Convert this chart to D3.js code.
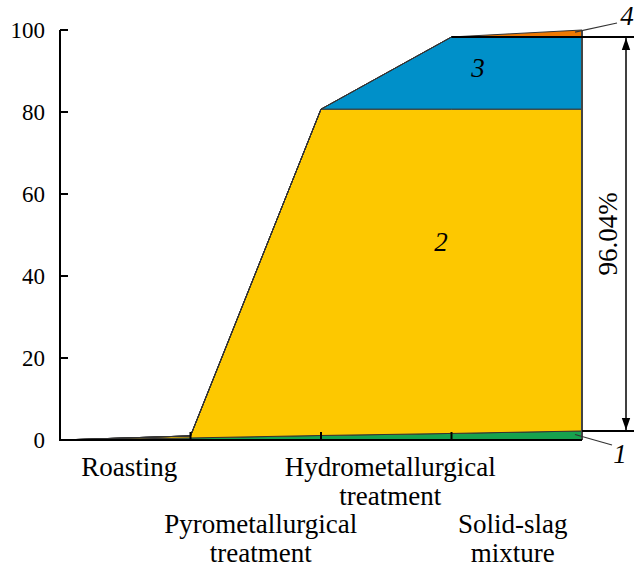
<!DOCTYPE html>
<html>
<head>
<meta charset="utf-8">
<script src="https://cdn.jsdelivr.net/npm/d3@7"></script>
<style>
  body { margin: 0; background: #fff; }
  text { font-family: "Liberation Serif", "Times New Roman", "DejaVu Serif", serif; fill: #000; }
</style>
</head>
<body>
<svg id="chart" width="634" height="567"></svg>
<script>
// stages along x (the last point is the end of the last stage)
const stages = ["Roasting", "Pyrometallurgical treatment", "Hydrometallurgical treatment", "Solid-slag mixture"];
const labelLines = [["Roasting"], ["Pyrometallurgical", "treatment"], ["Hydrometallurgical", "treatment"], ["Solid-slag", "mixture"]];
const labelRow = [0, 1, 0, 1];
const labelShift = [4, 5, 4, -4];

// layer thickness, %, at each of the 5 boundary points
const layer1 = [0, 0.5, 1.1, 1.6, 2.2];
const layer2 = [0, 0.5, 79.6, 79.1, 78.5];
const layer3 = [0, 0, 0, 17.6, 17.6];
const layer4 = [0, 0, 0, 0, 1.7];
const yTicks = [0, 20, 40, 60, 80, 100];
const annotation = "96.04%";

const colors = { l1: "#17a24e", l2: "#fdc800", l3: "#0090c9", l4: "#ef7800" };

const svg = d3.select("#chart");
const x = d3.scaleLinear().domain([0, stages.length]).range([60, 582]);
const y = d3.scaleLinear().domain([0, 100]).range([440, 30]);

const rows = layer1.map((v, i) => ({ i: i, l1: v, l2: layer2[i], l3: layer3[i], l4: layer4[i] }));
const keys = ["l1", "l2", "l3", "l4"];
const series = d3.stack().keys(keys)(rows);

const area = d3.area()
  .x(d => x(d.data.i))
  .y0(d => y(d[0]))
  .y1(d => y(d[1]));

svg.append("g").selectAll("path")
  .data(series)
  .enter()
  .append("path")
  .attr("d", area)
  .attr("fill", d => colors[d.key])
  .attr("stroke", "#333")
  .attr("stroke-width", 1)
  .attr("stroke-linejoin", "round");

// right edge
const last = rows.length - 1;
const total = d3.sum(keys, k => rows[last][k]);
svg.append("line")
  .attr("x1", x(last)).attr("x2", x(last))
  .attr("y1", y(0)).attr("y2", y(total))
  .attr("stroke", "#444").attr("stroke-width", 2);

// axes
svg.append("line").attr("x1", 60).attr("x2", 60).attr("y1", y(100)).attr("y2", y(0))
  .attr("stroke", "#000").attr("stroke-width", 2);
svg.append("line").attr("x1", 59).attr("x2", x(last)).attr("y1", y(0)).attr("y2", y(0))
  .attr("stroke", "#000").attr("stroke-width", 2);

svg.append("g").selectAll("line")
  .data(yTicks.filter(t => t > 0))
  .enter().append("line")
  .attr("x1", 60).attr("x2", 68)
  .attr("y1", d => y(d)).attr("y2", d => y(d))
  .attr("stroke", "#000").attr("stroke-width", 2);

svg.append("g").selectAll("text")
  .data(yTicks)
  .enter().append("text")
  .attr("x", 45)
  .attr("y", d => y(d))
  .attr("dy", "0.35em")
  .attr("text-anchor", "end")
  .style("font-size", "23px")
  .text(d => d);

svg.append("g").selectAll("line")
  .data(d3.range(1, stages.length))
  .enter().append("line")
  .attr("x1", d => x(d)).attr("x2", d => x(d))
  .attr("y1", y(0)).attr("y2", y(0) - 8)
  .attr("stroke", "#000").attr("stroke-width", 2);

// stage labels
const lab = svg.append("g").selectAll("text")
  .data(stages)
  .enter().append("text")
  .attr("text-anchor", "middle")
  .style("font-size", "27px")
  .attr("transform", (d, i) => `translate(${x(i + 0.5) + labelShift[i]},${476 + labelRow[i] * 57})`);
lab.selectAll("tspan")
  .data((d, i) => labelLines[i])
  .enter().append("tspan")
  .attr("x", 0)
  .attr("y", (d, j) => j * 29)
  .text(d => d);

// layer numbers
const italic = (t, px, py) => svg.append("text")
  .attr("x", px).attr("y", py)
  .attr("text-anchor", "middle")
  .style("font-size", "27px")
  .style("font-style", "italic")
  .text(t);
italic("2", 441, 251);
italic("3", 478, 77);
italic("4", 627, 25);
italic("1", 620, 463);

// leader lines
const top3 = rows[last].l1 + rows[last].l2 + rows[last].l3;
svg.append("line").attr("x1", x(last) - 7).attr("y1", y(total - 0.5))
  .attr("x2", 617).attr("y2", 23).attr("stroke", "#333").attr("stroke-width", 1.2);
svg.append("line").attr("x1", x(last) - 7).attr("y1", y(rows[last].l1 / 2) - 1)
  .attr("x2", 612).attr("y2", 445).attr("stroke", "#333").attr("stroke-width", 1.2);

// 96.04% dimension
svg.append("line").attr("x1", x(last - 1)).attr("x2", 634)
  .attr("y1", y(top3)).attr("y2", y(top3)).attr("stroke", "#000").attr("stroke-width", 2);
svg.append("line").attr("x1", x(last)).attr("x2", 634)
  .attr("y1", y(rows[last].l1)).attr("y2", y(rows[last].l1)).attr("stroke", "#000").attr("stroke-width", 2);

const defs = svg.append("defs");
defs.append("marker").attr("id", "arr")
  .attr("viewBox", "0 0 10 10").attr("refX", 10).attr("refY", 5)
  .attr("markerWidth", 14).attr("markerHeight", 12)
  .attr("markerUnits", "userSpaceOnUse")
  .attr("orient", "auto-start-reverse")
  .append("path").attr("d", "M0,1.5 L10,5 L0,8.5 Z").attr("fill", "#000");

svg.append("line")
  .attr("x1", 626).attr("x2", 626)
  .attr("y1", y(top3) + 1).attr("y2", y(rows[last].l1) - 1)
  .attr("stroke", "#000").attr("stroke-width", 1.5)
  .attr("marker-start", "url(#arr)").attr("marker-end", "url(#arr)");

svg.append("text")
  .attr("transform", `translate(617,${(y(top3) + y(rows[last].l1)) / 2}) rotate(-90)`)
  .attr("text-anchor", "middle")
  .style("font-size", "27px")
  .text(annotation);
</script>
</body>
</html>
